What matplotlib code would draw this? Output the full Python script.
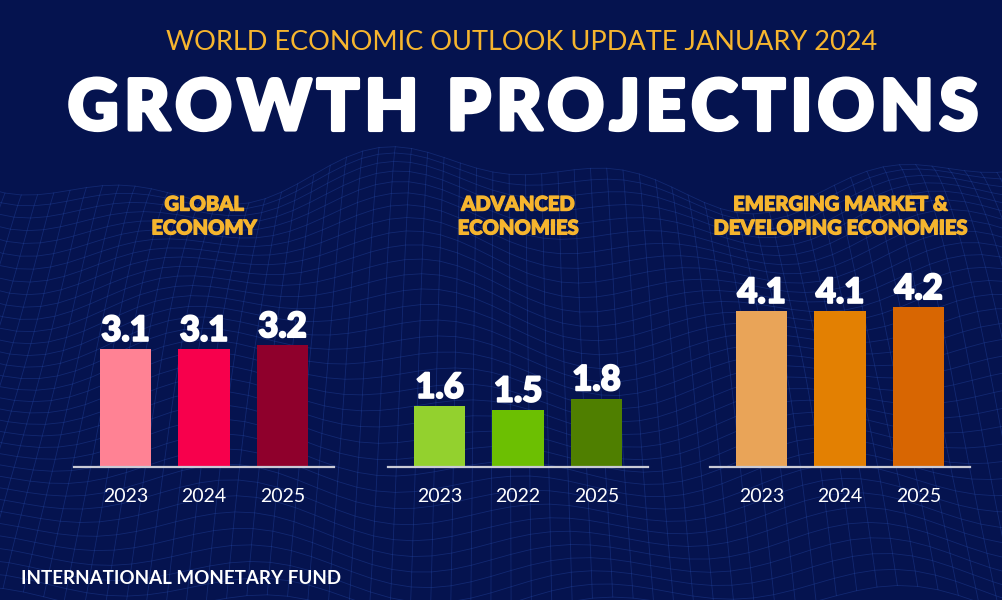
import matplotlib
matplotlib.use("Agg")
import matplotlib.pyplot as plt
import matplotlib.patheffects as pe
import numpy as np

plt.rcParams.update({
    "font.family": "Lato",
})

# data
PANEL_TITLES = ["GLOBAL\nECONOMY", "ADVANCED\nECONOMIES", "EMERGING MARKET &\nDEVELOPING ECONOMIES"]
YEARS = [
    ["2023", "2024", "2025"],
    ["2023", "2022", "2025"],
    ["2023", "2024", "2025"],
]
GLOBAL_GROWTH = [3.1, 3.1, 3.2]
ADVANCED_GROWTH = [1.6, 1.5, 1.8]
EMERGING_GROWTH = [4.1, 4.1, 4.2]
VALUES = [GLOBAL_GROWTH, ADVANCED_GROWTH, EMERGING_GROWTH]

COLORS = [
    ["#ff8294", "#f7004c", "#8f002c"],
    ["#93d12e", "#6cbf02", "#4f7f00"],
    ["#e9a458", "#e38002", "#d86602"],
]

BG = "#05134f"
GOLD = "#f6b52e"

W, H = 1002, 600
fig = plt.figure(figsize=(W / 100, H / 100), dpi=100)
fig.patch.set_facecolor(BG)


def heavy(color, lw):
    return [pe.withStroke(linewidth=lw, foreground=color)]


def spaced_text(s, xl, xr, yc, **kw):
    # spread the characters of s evenly between xl and xr (pixels)
    renderer = fig.canvas.get_renderer()
    tmp = [fig.text(0, 0, ch, **kw) for ch in s]
    widths = [t.get_window_extent(renderer).width for t in tmp]
    for t in tmp:
        t.remove()
    gap = (xr - xl - sum(widths)) / (len(s) - 1)
    xp = xl
    for ch, w in zip(s, widths):
        fig.text(xp / W, 1 - yc / H, ch, ha="left", va="center", **kw)
        xp += w + gap


# decorative wireframe backdrop
bg_ax = fig.add_axes([0, 0, 1, 1])
bg_ax.set_xlim(0, W)
bg_ax.set_ylim(H, 0)
bg_ax.axis("off")
u = np.linspace(-60, W + 60, 70)
v = np.linspace(0, 1, 34)
U, V = np.meshgrid(u, v)
Y = 178 + V ** 1.15 * 430 + 22 * np.sin(U / 95 + V * 3) * (1 - 0.5 * V) + 14 * np.cos(U / 40 - V * 5)
X = U + (U - W / 2) * V * 0.25
for i in range(X.shape[0]):
    bg_ax.plot(X[i], Y[i], color="#2a4fb0", lw=0.6, alpha=0.35)
for j in range(0, X.shape[1]):
    bg_ax.plot(X[:, j], Y[:, j], color="#2a4fb0", lw=0.6, alpha=0.35)

# headings
fig.text(522 / W, 1 - 42 / H, "WORLD ECONOMIC OUTLOOK UPDATE JANUARY 2024",
         color=GOLD, fontsize=19.5, fontweight="normal", ha="center", va="center")

spaced_text("GROWTH PROJECTIONS", 68, 978, 110, color="white", fontsize=50,
            fontweight="black", path_effects=heavy("white", 3))

fig.text(21 / W, 1 - 578 / H, "INTERNATIONAL MONETARY FUND", color="white",
         fontsize=13.5, fontweight="bold", ha="left", va="center")

# panels
first_centers = [125.5, 439.5, 761.5]
step = 78.5
baseline = 467
px_per_unit = 38
ymax = 5
for k in range(3):
    left = first_centers[k] - 0.65 * step
    width = 3.3 * step
    ax = fig.add_axes([left / W, 1 - baseline / H, width / W, ymax * px_per_unit / H])
    ax.set_facecolor("none")
    ax.set_xlim(-0.65, 2.65)
    ax.set_ylim(0, ymax)
    xs = np.arange(3)
    ax.bar(xs, VALUES[k], width=0.65, color=COLORS[k], zorder=3)
    for xi, val in zip(xs, VALUES[k]):
        ax.annotate(f"{val:.1f}", (xi, val), xytext=(0, 6), textcoords="offset points",
                    ha="center", va="baseline", color="white", fontsize=25,
                    fontweight="black", path_effects=heavy("white", 1.4))
    ax.axhline(0, color="#c9cad6", lw=1.6, zorder=4, clip_on=False)
    ax.set_xticks(xs)
    ax.set_xticklabels(YEARS[k], color="white", fontsize=14)
    ax.tick_params(axis="x", length=0, pad=15)
    ax.set_yticks([])
    for s in ax.spines.values():
        s.set_visible(False)
    ax.text(1, (baseline - 216) / px_per_unit, PANEL_TITLES[k], color=GOLD, fontsize=14.5,
            fontweight="black", linespacing=1.3, ha="center", va="center",
            path_effects=heavy(GOLD, 0.9))

fig.savefig("out.png", dpi=100, facecolor=BG)
